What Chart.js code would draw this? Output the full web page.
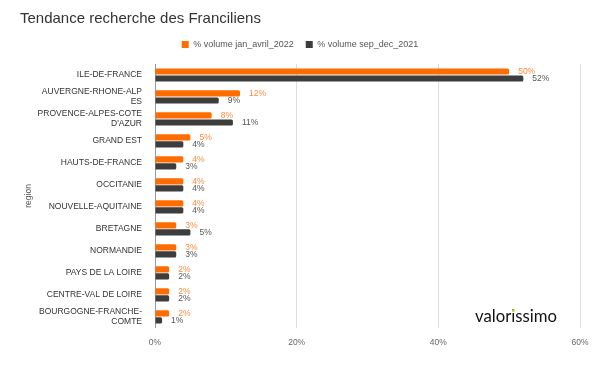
<!DOCTYPE html>
<html>
<head>
<meta charset="utf-8">
<script src="https://cdn.jsdelivr.net/npm/chart.js@4"></script>
<style>
html,body{margin:0;padding:0;background:#fff;}
#wrap{width:602px;height:379px;position:relative;}
</style>
</head>
<body>
<div id="wrap"><canvas id="c" width="602" height="379"></canvas></div>
<script>
const categories = [
  "ILE-DE-FRANCE",
  ["AUVERGNE-RHONE-ALP","ES"],
  ["PROVENCE-ALPES-COTE","D'AZUR"],
  "GRAND EST",
  "HAUTS-DE-FRANCE",
  "OCCITANIE",
  "NOUVELLE-AQUITAINE",
  "BRETAGNE",
  "NORMANDIE",
  "PAYS DE LA LOIRE",
  "CENTRE-VAL DE LOIRE",
  ["BOURGOGNE-FRANCHE-","COMTE"]
];
const volJanAvril2022 = [50, 12, 8, 5, 4, 4, 4, 3, 3, 2, 2, 2];
const volSepDec2021   = [52, 9, 11, 4, 3, 4, 4, 5, 3, 2, 2, 1];
const seriesNames = ["% volume jan_avril_2022", "% volume sep_dec_2021"];
const xTicks = [0, 20, 40, 60];

const FONT = "'Liberation Sans', Arial, sans-serif";

const legendSpacer = {
  id: 'legendSpacer',
  beforeInit(chart) {
    const orig = chart.legend.fit;
    chart.legend.fit = function () {
      orig.call(this);
      this.height += 5;
    };
  }
};

const labelPlugin = {
  id: 'barLabels',
  afterDatasetsDraw(chart) {
    const ctx = chart.ctx;
    ctx.save();
    ctx.font = "8.5px " + FONT;
    ctx.textBaseline = 'middle';
    ctx.textAlign = 'left';
    chart.data.datasets.forEach((ds, i) => {
      const meta = chart.getDatasetMeta(i);
      ctx.fillStyle = i === 0 ? '#ff8a3d' : '#555555';
      meta.data.forEach((el, j) => {
        ctx.fillText(ds.data[j] + '%', el.x + 9, el.y);
      });
    });
    // logo
    const logo = 'valorissimo';
    ctx.font = "400 16px Lato, 'Open Sans', sans-serif";
    const w = ctx.measureText(logo).width;
    const size = 16 * 82 / w;
    ctx.font = "400 " + size.toFixed(2) + "px Lato, 'Open Sans', sans-serif";
    ctx.textBaseline = 'alphabetic';
    ctx.fillStyle = '#111111';
    const lx = 475, ly = 322;
    ctx.fillText(logo, lx, ly);
    // green dot on first "i"
    const pre = ctx.measureText('valor').width;
    const iw = ctx.measureText('i').width;
    ctx.fillStyle = '#c4d82e';
    ctx.beginPath();
    ctx.arc(lx + pre + iw / 2, ly - size * 0.68, size * 0.08, 0, Math.PI * 2);
    ctx.fill();
    ctx.restore();
  }
};

new Chart(document.getElementById('c'), {
  type: 'bar',
  data: {
    labels: categories,
    datasets: [
      { label: seriesNames[0], data: volJanAvril2022, backgroundColor: '#ff6d01',
        categoryPercentage: 0.64, barPercentage: 0.88, borderRadius: 1.5 },
      { label: seriesNames[1], data: volSepDec2021, backgroundColor: '#3d3d3d',
        categoryPercentage: 0.64, barPercentage: 0.88, borderRadius: 1.5 }
    ]
  },
  options: {
    indexAxis: 'y',
    responsive: false,
    animation: false,
    layout: { padding: { left: 20, right: 22, top: 6, bottom: 21 } },
    plugins: {
      title: {
        display: true, text: 'Tendance recherche des Franciliens', align: 'start',
        color: '#333333', font: { family: FONT, size: 15, weight: 'normal' },
        padding: { top: 4, bottom: 0 }
      },
      legend: {
        display: true, position: 'top', align: 'center',
        labels: {
          boxWidth: 7, boxHeight: 7, color: '#555555',
          font: { family: FONT, size: 9 }, padding: 12
        }
      },
      tooltip: { enabled: false }
    },
    scales: {
      x: {
        type: 'linear', min: 0, max: 60,
        afterBuildTicks(scale) { scale.ticks = xTicks.map(v => ({ value: v })); },
        ticks: { callback: v => v + '%', color: '#666666', font: { family: FONT, size: 8.5 }, padding: 10 },
        grid: { color: '#dddddd', drawTicks: false, lineWidth: 1 },
        border: { display: false }
      },
      y: {
        afterFit(scale) { scale.width = 135; },
        ticks: { color: '#333333', font: { family: FONT, size: 8.5 }, padding: 5, autoSkip: false },
        grid: { display: false },
        border: { display: true, color: '#999999' },
        title: { display: true, text: 'region', color: '#555555', font: { family: FONT, size: 8.5 } }
      }
    }
  },
  plugins: [legendSpacer, labelPlugin]
});
</script>
</body>
</html>
